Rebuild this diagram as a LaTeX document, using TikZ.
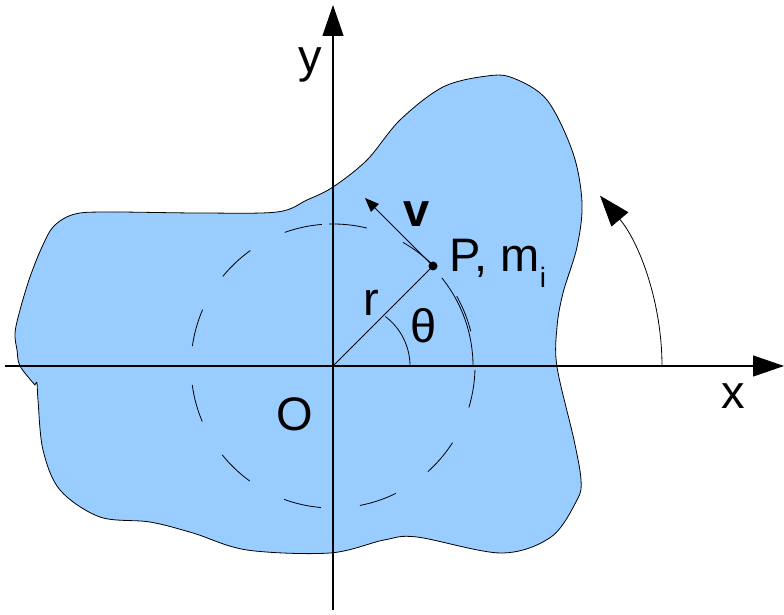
\documentclass[tikz,border=0pt]{standalone}
\usepackage{fontspec}
\setmainfont{Liberation Sans}
\usetikzlibrary{arrows.meta}
\definecolor{bodyblue}{RGB}{153,204,255}
\begin{document}
\begin{tikzpicture}[x=1pt,y=1pt,
  lbl/.style={inner sep=0pt, anchor=base, font=\fontsize{47}{56}\selectfont},
  thin line/.style={line width=0.8pt},
  axis/.style={line width=1.2pt, -{Triangle[length=31pt,width=21pt]}}]
\useasboundingbox (0,0) rectangle (784,614);
% body
\filldraw[fill=bodyblue, draw=black, thin line] plot[smooth, tension=0.55] coordinates {(35,229) (37,231) (38,214) (43,164) (60,124) (100,97) (150,92) (193,81) (247,64) (330,61) (384,74) (417,77) (501,61) (551,77) (577,114) (581,134) (574,174) (557,247) (557,287) (563,321) (577,367) (582,411) (573,461) (547,514) (513,536) (487,538) (443,527) (400,494) (367,454) (333,427) (307,414) (277,402) (200,401) (110,402) (75,400) (54,388) (42,367) (30,337) (20,304) (15,281) (17,264) (20,248) (35,229)} -- cycle;
% coordinates
\coordinate (O) at (333,248);
\coordinate (ybot) at (333,4);
\coordinate (ytop) at (333,609);
\coordinate (xl) at (5,248);
\coordinate (xr) at (784,248);
\coordinate (thc) at (348,248);
\coordinate (rc) at (397,248);
\coordinate (vtip) at (365,416);
% axes
\draw[axis] (ybot) -- (ytop);
\draw[axis] (xl) -- (xr);
% dashed circle
\draw[thin line, dash pattern=on 38pt off 39pt] ([shift={(94.5:142)}]O) arc[start angle=94.5, end angle=454.5, radius=142];
\draw[thin line] ([shift={(0:140)}]O) arc[start angle=0, end angle=39, radius=140];
% point P
\node[circle, fill=black, inner sep=0pt, minimum size=9pt] (P) at (433,348) {};
\draw[thin line] (O) -- (P.center);
\draw[thin line, -{Triangle[length=14pt,width=11pt]}] (P.center) -- (vtip);
% theta arc
\draw[thin line] ([shift={(0:62)}]thc) arc[start angle=0, end angle=53, radius=62];
% rotation arrow
\draw[thin line, -{Triangle[length=31pt,width=22pt]}] ([shift={(0:265)}]rc) arc[start angle=0, end angle=40, radius=265];
% labels
\node[lbl] (ylab) at (310,541) {y};
\node[lbl] (xlab) at (733,206) {x};
\node[lbl] (Olab) at (294.5,184) {O};
\node[lbl] (rlab) at (371,299) {r};
\node[lbl] (thlab) at (424,272) {θ};
\node[lbl, font=\fontsize{47}{56}\selectfont\bfseries] (vlab) at (417,387) {v};
\node[lbl, anchor=base west] (Plab) at (449,342) {P, m\raisebox{-16pt}{\fontsize{28}{30}\selectfont i}};
\end{tikzpicture}
\end{document}
